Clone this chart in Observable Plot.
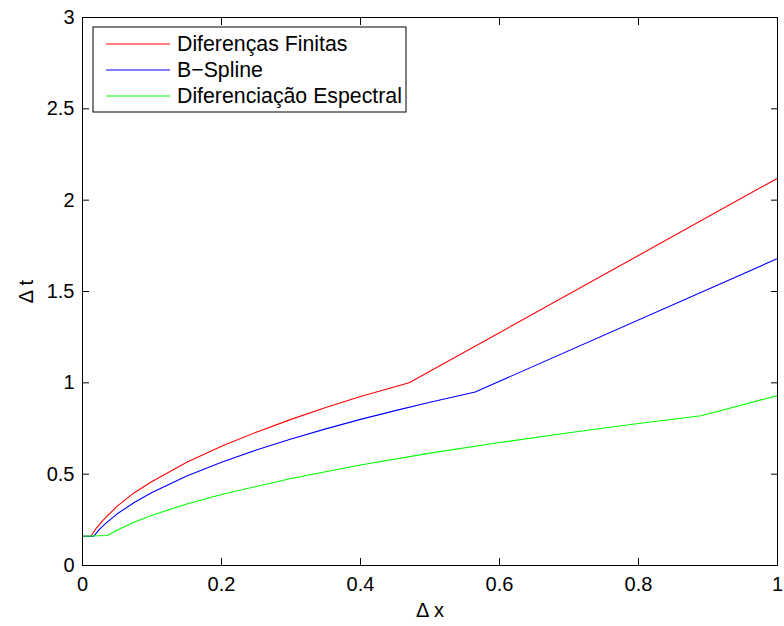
<!DOCTYPE html>
<html>
<head>
<meta charset="utf-8">
<script src="https://cdn.jsdelivr.net/npm/d3@7"></script>
<script src="https://cdn.jsdelivr.net/npm/@observablehq/plot@0.6"></script>
<style>
  html, body { margin: 0; padding: 0; background: #fff; }
  #chart svg { font-family: "Liberation Sans", Arial, Helvetica, sans-serif; }
</style>
</head>
<body>
<div id="chart"></div>
<script>
const seriesNames = ["Diferenças Finitas", "B\u2212Spline", "Diferenciação Espectral"];
const seriesColors = ["#ff0000", "#0000ff", "#00ff00"];

const redX = [0, 0.012, 0.02, 0.03, 0.05, 0.075, 0.1, 0.15, 0.2, 0.25, 0.3, 0.35, 0.4, 0.47, 1.0];
const redY = [0.16, 0.16, 0.205, 0.25, 0.325, 0.40, 0.46, 0.565, 0.653, 0.73, 0.80, 0.865, 0.925, 1.0, 2.12];

const blueX = [0, 0.016, 0.025, 0.035, 0.05, 0.075, 0.1, 0.15, 0.2, 0.25, 0.3, 0.35, 0.4, 0.45, 0.5, 0.565, 1.0];
const blueY = [0.16, 0.16, 0.2, 0.236, 0.283, 0.346, 0.40, 0.49, 0.565, 0.632, 0.692, 0.748, 0.80, 0.848, 0.894, 0.95, 1.68];

const greenX = [0, 0.036, 0.05, 0.075, 0.1, 0.15, 0.2, 0.3, 0.4, 0.5, 0.6, 0.7, 0.8, 0.89, 1.0];
const greenY = [0.16, 0.164, 0.194, 0.238, 0.275, 0.337, 0.389, 0.476, 0.55, 0.615, 0.673, 0.727, 0.777, 0.82, 0.93];

const xTicks = [0, 0.2, 0.4, 0.6, 0.8, 1];
const yTicks = [0, 0.5, 1, 1.5, 2, 2.5, 3];

const toRows = (xs, ys, s) => xs.map((x, i) => ({x, y: ys[i], s}));
const data = [
  ...toRows(redX, redY, seriesNames[0]),
  ...toRows(blueX, blueY, seriesNames[1]),
  ...toRows(greenX, greenY, seriesNames[2])
];

const noText = () => "";
const W = 784, H = 626;
const chart = Plot.plot({
  width: W,
  height: H,
  marginLeft: 82,
  marginRight: 7,
  marginTop: 17,
  marginBottom: 61,
  style: {fontSize: "20px", fontFamily: "Liberation Sans, Arial, sans-serif", color: "#000", background: "#fff"},
  x: {domain: [0, 1], ticks: xTicks, tickFormat: d => String(d)},
  y: {domain: [0, 3], ticks: yTicks, tickFormat: d => String(d)},
  color: {domain: seriesNames, range: seriesColors},
  marks: [
    Plot.axisX({anchor: "bottom", ticks: xTicks, tickSize: 0, tickPadding: 11, label: "\u0394 x", labelAnchor: "center", labelOffset: 51, labelArrow: "none", tickFormat: d => String(d)}),
    Plot.axisX({anchor: "bottom", ticks: xTicks, tickSize: -7, tickFormat: noText, label: null}),
    Plot.axisX({anchor: "top", ticks: xTicks, tickSize: -7, tickFormat: noText, label: null}),
    Plot.axisY({anchor: "left", ticks: yTicks, tickSize: 0, tickPadding: 8, label: "\u0394 t", labelAnchor: "center", labelOffset: 64, labelArrow: "none", tickFormat: d => String(d)}),
    Plot.axisY({anchor: "left", ticks: yTicks, tickSize: -7, tickFormat: noText, label: null}),
    Plot.axisY({anchor: "right", ticks: yTicks, tickSize: -7, tickFormat: noText, label: null}),
    Plot.line(data, {x: "x", y: "y", z: "s", stroke: "s", strokeWidth: 1.1}),
    Plot.frame({stroke: "#000", strokeWidth: 1})
  ]
});

document.getElementById("chart").appendChild(chart);

// Legend (MATLAB-style box in upper left)
const svg = d3.select(chart);
const lg = svg.append("g").attr("class", "legend");
const lx = 93, ly = 27, lw = 313, lh = 85;
lg.append("rect").attr("x", lx).attr("y", ly).attr("width", lw).attr("height", lh)
  .attr("fill", "#fff").attr("stroke", "#000").attr("stroke-width", 1);
const rowY = [44, 70, 96];
seriesNames.forEach((name, i) => {
  lg.append("line").attr("x1", 106).attr("x2", 170).attr("y1", rowY[i]).attr("y2", rowY[i])
    .attr("stroke", seriesColors[i]).attr("stroke-width", 1.1);
  lg.append("text").attr("x", 177).attr("y", rowY[i]).attr("dy", "0.35em")
    .attr("text-anchor", "start").attr("font-size", 21.3).attr("fill", "#000").text(name);
});
</script>
</body>
</html>
